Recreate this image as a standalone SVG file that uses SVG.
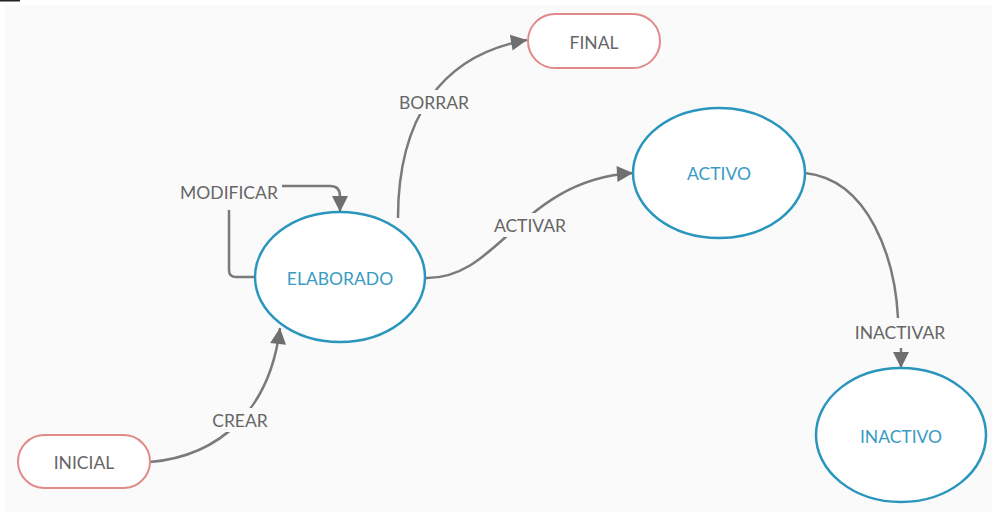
<svg xmlns="http://www.w3.org/2000/svg" width="1000" height="518" viewBox="0 0 1000 518">
<style>
.bg{fill:#fafafa}
.st{fill:#ffffff;stroke:#2a96bd;stroke-width:2.5}
.term{fill:#ffffff;stroke:#e08a8a;stroke-width:2}
.nl{font-family:Lato,"Open Sans",sans-serif;font-size:17.5px;fill:#3a9cc4;text-anchor:middle;dominant-baseline:central}
.tl{font-family:Lato,"Open Sans",sans-serif;font-size:17.5px;fill:#666;text-anchor:middle;dominant-baseline:central}
.el{font-family:Lato,"Open Sans",sans-serif;font-size:17.5px;fill:#666;text-anchor:middle;dominant-baseline:central}
.c{fill:none;stroke:#7a7a7a;stroke-width:2.5}
.lb{fill:#fafafa}
</style>
<defs>
<marker id="ah" markerUnits="userSpaceOnUse" markerWidth="18" markerHeight="18" viewBox="0 0 18 18" refX="17" refY="9" orient="auto">
<path d="M1,1 L17,9 L1,17 Z" fill="#6f6f6f"/>
</marker>
</defs>
<rect width="1000" height="518" fill="#ffffff"/>
<rect class="bg" x="5" y="5" width="987" height="507"/>
<rect x="0" y="0" width="20" height="1.5" fill="#222"/>
<g id="connectors">
<path class="c" d="M150,462 C220,456 270,410 280,328" marker-end="url(#ah)"/>
<path class="c" d="M255,277 L236,277 Q229,277 229,270 L229,210"/>
<path class="c" d="M282,186 L330,186 Q340,186 340,196 L340,212" marker-end="url(#ah)"/>
<path class="c" d="M398,218 C398,120 440,55 527,40" marker-end="url(#ah)"/>
<path class="c" d="M425,278 C500,280 520,180 633,173" marker-end="url(#ah)"/>
<path class="c" d="M805,173 C870,180 895,260 898,318"/>
<path class="c" d="M901,348 L901,368" marker-end="url(#ah)"/>
<rect class="lb" x="206" y="408" width="68" height="24"/>
<text class="el" x="240" y="420">CREAR</text>
<rect class="lb" x="176" y="180" width="106" height="24"/>
<text class="el" x="229" y="192">MODIFICAR</text>
<rect class="lb" x="394" y="90" width="80" height="24"/>
<text class="el" x="434" y="102">BORRAR</text>
<rect class="lb" x="486" y="213" width="88" height="24"/>
<text class="el" x="530" y="225">ACTIVAR</text>
<rect class="lb" x="848" y="320" width="104" height="24"/>
<text class="el" x="900" y="332">INACTIVAR</text>
</g>
<g id="inicial">
<rect class="term" x="18" y="435" width="132" height="53" rx="26.5"/>
<text class="tl" x="84" y="462">INICIAL</text>
</g>
<g id="final">
<rect class="term" x="528" y="14" width="132" height="54" rx="27"/>
<text class="tl" x="594" y="42">FINAL</text>
</g>
<g id="elaborado">
<ellipse class="st" cx="340" cy="277" rx="85" ry="65"/>
<text class="nl" x="340" y="278">ELABORADO</text>
</g>
<g id="activo">
<ellipse class="st" cx="719" cy="173" rx="86" ry="65"/>
<text class="nl" x="719" y="173">ACTIVO</text>
</g>
<g id="inactivo">
<ellipse class="st" cx="901" cy="435" rx="85" ry="67"/>
<text class="nl" x="901" y="436">INACTIVO</text>
</g>
</svg>
